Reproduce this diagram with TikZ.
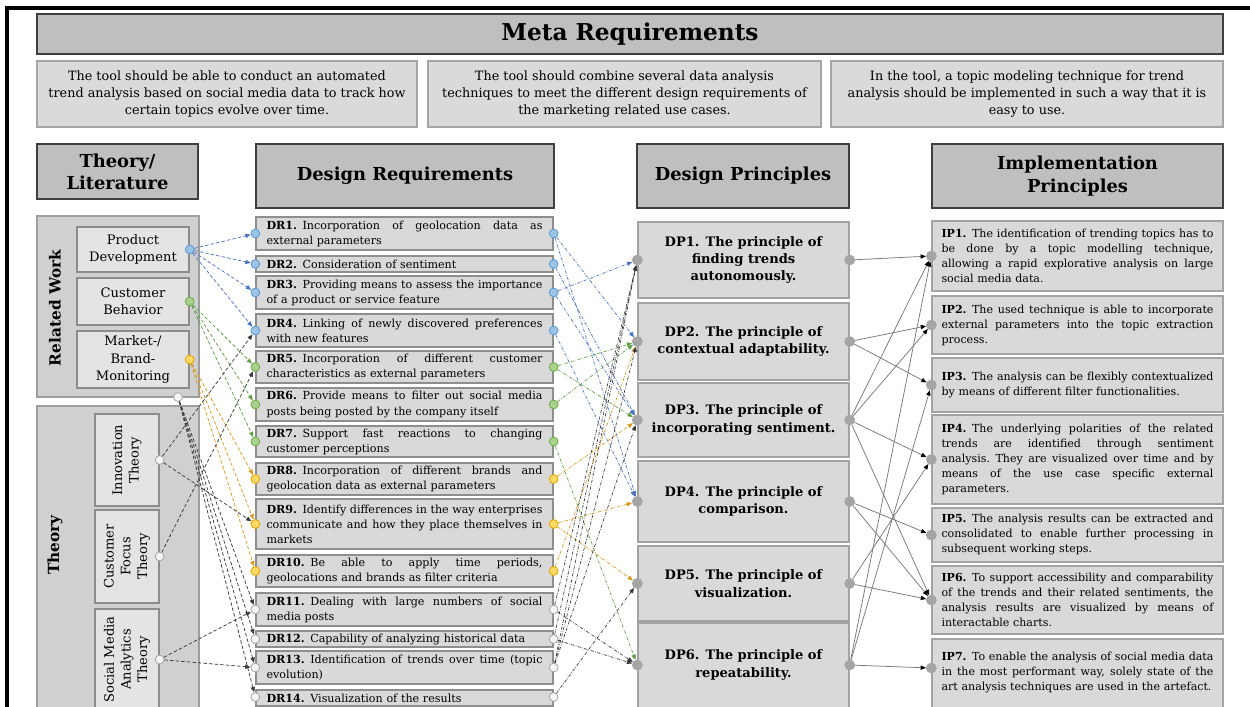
\documentclass[tikz,border=0pt]{standalone}
\usepackage{fontspec}
\setmainfont{DejaVu Serif}
\usetikzlibrary{arrows.meta}

\definecolor{hdrfill}{HTML}{BFBFBF}
\definecolor{hdrline}{HTML}{3F3F3F}
\definecolor{metafill}{HTML}{DADADA}
\definecolor{metaline}{HTML}{A5A5A5}
\definecolor{grpfill}{HTML}{D0D0D0}
\definecolor{grpline}{HTML}{9E9E9E}
\definecolor{subfill}{HTML}{E4E4E4}
\definecolor{subline}{HTML}{8C8C8C}
\definecolor{boxfill}{HTML}{D9D9D9}
\definecolor{boxline}{HTML}{8E8E8E}
\definecolor{dpline}{HTML}{A3A3A3}
\definecolor{bluefill}{HTML}{9DC3E6}
\definecolor{blueedge}{HTML}{5B9BD5}
\definecolor{greenfill}{HTML}{A9D18E}
\definecolor{greenedge}{HTML}{70AD47}
\definecolor{yelfill}{HTML}{FFD966}
\definecolor{yeledge}{HTML}{E3A800}
\definecolor{whitefill}{HTML}{F4F4F4}
\definecolor{whiteedge}{HTML}{A6A6A6}
\definecolor{greydot}{HTML}{A5A5A5}
\definecolor{lnblue}{HTML}{4A72C0}
\definecolor{lngreen}{HTML}{5E9E44}
\definecolor{lnyel}{HTML}{D99A1E}
\definecolor{lnblack}{HTML}{3A3A3A}
\definecolor{lngrey}{HTML}{777777}

% box from pixel corners (x1,y1)-(x2,y2)
\newcommand\putbox[7]{%
  \pgfmathsetmacro\bw{(#4-#2)*0.75}%
  \pgfmathsetmacro\bh{(#5-#3)*0.75}%
  \node[#6, minimum width=\bw pt, minimum height=\bh pt] (#1) at ({(#2+#4)/2},{(#3+#5)/2}) {#7};}
% fully justified lines for the requirement and implementation boxes
\newcommand\jd[1]{\leavevmode\hbox to 207pt{\spaceskip=0.32em plus 3em minus 0.04em\relax #1}\\}
\newcommand\ji[1]{\leavevmode\hbox to 204pt{\spaceskip=0.32em plus 3em minus 0.04em\relax #1}\\}

\tikzset{
  hdr/.style={draw=hdrline, fill=hdrfill, line width=1.1pt, inner sep=0pt, align=center,
    font=\fontsize{13.4}{17}\selectfont\bfseries},
  meta/.style={draw=metaline, fill=metafill, line width=1pt, inner sep=0pt, align=center,
    font=\fontsize{9.6}{12.75}\selectfont},
  grp/.style={draw=grpline, fill=grpfill, line width=1pt, inner sep=0pt},
  sub/.style={draw=subline, fill=subfill, line width=1pt, inner sep=0pt, align=center,
    font=\fontsize{9.8}{13}\selectfont},
  drbox/.style={draw=boxline, fill=boxfill, line width=1pt, inner sep=0pt, text width=207pt,
    align=left, font=\fontsize{8.35}{11.3}\selectfont},
  dpbox/.style={draw=dpline, fill=boxfill, line width=1pt, inner sep=0pt, align=center,
    font=\fontsize{9.8}{13}\selectfont\bfseries},
  ipbox/.style={draw=dpline, fill=boxfill, line width=1pt, inner sep=0pt, text width=204pt,
    align=left, font=\fontsize{8.3}{11.25}\selectfont},
  grplabel/.style={rotate=90, font=\fontsize{11.5}{14}\selectfont\bfseries},
  sublabel/.style={rotate=90, align=center, font=\fontsize{9.8}{12.5}\selectfont},
  dot/.style={circle, inner sep=0pt, minimum size=6.6pt, line width=0.6pt},
  bdot/.style={dot, fill=bluefill, draw=blueedge},
  gdot/.style={dot, fill=greenfill, draw=greenedge},
  ydot/.style={dot, fill=yelfill, draw=yeledge},
  wdot/.style={dot, fill=whitefill, draw=whiteedge},
  pdot/.style={dot, minimum size=7.4pt, fill=greydot, draw=greydot},
  rwl/.style={-{Triangle[length=4pt,width=3.2pt]}, line width=0.55pt, dash pattern=on 2.6pt off 1.6pt},
  dpl/.style={-{Triangle[length=4pt,width=3.2pt]}, line width=0.5pt,
    dash pattern=on 2.4pt off 1.1pt on 0.5pt off 1.1pt},
  ipl/.style={-{Triangle[length=4pt,width=3.2pt,color=black]}, line width=0.55pt, draw=lngrey},
}

\begin{document}
\begin{tikzpicture}[x=0.75pt,y=-0.75pt]
\clip (0,0) rectangle (1250,707);
\fill[white] (0,0) rectangle (1250,707);

% outer frame
\draw[line width=2.3pt] (7,715) -- (7,8) -- (1260,8);

% meta requirements
\putbox{title}{37}{14}{1223}{54}{hdr, font=\fontsize{17.4}{20}\selectfont\bfseries}{Meta Requirements}
\putbox{mr1}{37}{61}{417}{127}{meta}{The tool should be able to conduct an automated\\trend analysis based on social media data to track how\\certain topics evolve over time.}
\putbox{mr2}{428}{61}{821}{127}{meta}{The tool should combine several data analysis\\techniques to meet the different design requirements of\\the marketing related use cases.}
\putbox{mr3}{831}{61}{1223}{127}{meta}{In the tool, a topic modeling technique for trend\\analysis should be implemented in such a way that it is\\easy to use.}

% column headers
\putbox{hlit}{37}{144}{198}{199}{hdr, font=\fontsize{13.4}{16.5}\selectfont\bfseries}{Theory/\\Literature}
\putbox{hdr}{256}{144}{554}{208}{hdr}{Design Requirements}
\putbox{hdp}{637}{144}{849}{208}{hdr}{Design Principles}
\putbox{hip}{932}{144}{1223}{208}{hdr, font=\fontsize{13.4}{17.8}\selectfont\bfseries}{Implementation\\Principles}

% theory / literature groups
\putbox{rw}{37}{216}{199}{397}{grp}{}
\node[grplabel] (rwlab) at (55,308) {Related Work};
\putbox{pd}{77}{227}{189}{272}{sub}{Product\\Development}
\putbox{cb}{77}{278}{189}{325}{sub}{Customer\\Behavior}
\putbox{mb}{77}{331}{189}{388}{sub}{Market-/\\Brand-\\Monitoring}

\putbox{th}{37}{406}{199}{720}{grp}{}
\node[grplabel] (thlab) at (55,545) {Theory};
\putbox{it}{95}{414}{159}{506}{sub}{}
\node[sublabel] (itlab) at (it.center) {Innovation\\Theory};
\putbox{cf}{95}{510}{159}{603}{sub}{}
\node[sublabel] (cflab) at (cf.center) {Customer\\Focus\\Theory};
\putbox{sm}{95}{609}{159}{710}{sub}{}
\node[sublabel] (smlab) at (sm.center) {Social Media\\Analytics\\Theory};

% design requirements
\putbox{dr1}{256}{217}{553}{250}{drbox}{\jd{\textbf{DR1.} Incorporation of geolocation data as}external parameters}
\putbox{dr2}{256}{256}{553}{272}{drbox}{\textbf{DR2.} Consideration of sentiment}
\putbox{dr3}{256}{276}{553}{309}{drbox}{\jd{\textbf{DR3.} Providing means to assess the importance}of a product or service feature}
\putbox{dr4}{256}{314}{553}{347}{drbox}{\jd{\textbf{DR4.} Linking of newly discovered preferences}with new features}
\putbox{dr5}{256}{351}{553}{383}{drbox}{\jd{\textbf{DR5.} Incorporation of different customer}characteristics as external parameters}
\putbox{dr6}{256}{388}{553}{421}{drbox}{\jd{\textbf{DR6.} Provide means to filter out social media}posts being posted by the company itself}
\putbox{dr7}{256}{426}{553}{457}{drbox}{\jd{\textbf{DR7.} Support fast reactions to changing}customer perceptions}
\putbox{dr8}{256}{463}{553}{495}{drbox}{\jd{\textbf{DR8.} Incorporation of different brands and}geolocation data as external parameters}
\putbox{dr9}{256}{499}{553}{549}{drbox}{\jd{\textbf{DR9.} Identify differences in the way enterprises}\jd{communicate and how they place themselves in}markets}
\putbox{dr10}{256}{555}{553}{587}{drbox}{\jd{\textbf{DR10.} Be able to apply time periods,}geolocations and brands as filter criteria}
\putbox{dr11}{256}{593}{553}{626}{drbox}{\jd{\textbf{DR11.} Dealing with large numbers of social}media posts}
\putbox{dr12}{256}{631}{553}{647}{drbox}{\textbf{DR12.} Capability of analyzing historical data}
\putbox{dr13}{256}{651}{553}{684}{drbox}{\jd{\textbf{DR13.} Identification of trends over time (topic}evolution)}
\putbox{dr14}{256}{690}{553}{706}{drbox}{\textbf{DR14.} Visualization of the results}

% design principles
\putbox{dp1}{638}{222}{849}{298}{dpbox}{DP1. The principle of\\finding trends\\autonomously.}
\putbox{dp2}{638}{303}{849}{380}{dpbox}{DP2. The principle of\\contextual adaptability.}
\putbox{dp3}{638}{383}{849}{457}{dpbox}{DP3. The principle of\\incorporating sentiment.}
\putbox{dp4}{638}{461}{849}{542}{dpbox}{DP4. The principle of\\comparison.}
\putbox{dp5}{638}{546}{849}{621}{dpbox}{DP5. The principle of\\visualization.}
\putbox{dp6}{638}{623}{849}{712}{dpbox}{}
\node[dpbox, draw=none, fill=none] (dp6t) at (743.5,665) {DP6. The principle of\\repeatability.};

% implementation principles
\putbox{ip1}{932}{221}{1223}{291}{ipbox}{\ji{\textbf{IP1.} The identification of trending topics has to}\ji{be done by a topic modelling technique,}\ji{allowing a rapid explorative analysis on large}social media data.}
\putbox{ip2}{932}{296}{1223}{354}{ipbox}{\ji{\textbf{IP2.} The used technique is able to incorporate}\ji{external parameters into the topic extraction}process.}
\putbox{ip3}{932}{358}{1223}{412}{ipbox}{\ji{\textbf{IP3.} The analysis can be flexibly contextualized}by means of different filter functionalities.}
\putbox{ip4}{932}{415}{1223}{504}{ipbox}{\ji{\textbf{IP4.} The underlying polarities of the related}\ji{trends are identified through sentiment}\ji{analysis. They are visualized over time and by}\ji{means of the use case specific external}parameters.}
\putbox{ip5}{932}{508}{1223}{562}{ipbox}{\ji{\textbf{IP5.} The analysis results can be extracted and}\ji{consolidated to enable further processing in}subsequent working steps.}
\putbox{ip6}{932}{566}{1223}{634}{ipbox}{\ji{\textbf{IP6.} To support accessibility and comparability}\ji{of the trends and their related sentiments, the}\ji{analysis results are visualized by means of}interactable charts.}
\putbox{ip7}{932}{639}{1223}{712}{ipbox}{}
\node[ipbox, draw=none, fill=none] (ip7t) at (1077.5,673) {\ji{\textbf{IP7.} To enable the analysis of social media data}\ji{in the most performant way, solely state of the}art analysis techniques are used in the artefact.};

% connection dots: literature
\node[bdot] (pd-o) at (pd.east) {};
\node[gdot] (cb-o) at (cb.east) {};
\node[ydot] (mb-o) at (mb.east) {};
\node[wdot] (rw-o) at (178,397) {};
\node[wdot] (it-o) at (it.east) {};
\node[wdot] (cf-o) at (cf.east) {};
\node[wdot] (sm-o) at (sm.east) {};

% connection dots: design requirements
\foreach \n/\s in {1/bdot,2/bdot,3/bdot,4/bdot,5/gdot,6/gdot,7/gdot,8/ydot,9/ydot,10/ydot,11/wdot,12/wdot,13/wdot}{
  \node[\s] (dr\n-i) at (dr\n.west) {};
  \node[\s] (dr\n-o) at (dr\n.east) {};
}
\node[wdot] (dr14-i) at ([yshift=0.75pt]dr14.west) {};
\node[wdot] (dr14-o) at ([yshift=0.75pt]dr14.east) {};

% connection dots: design and implementation principles
\foreach \n in {1,...,5}{
  \node[pdot] (dp\n-i) at (dp\n.west) {};
  \node[pdot] (dp\n-o) at (dp\n.east) {};
}
\node[pdot] (dp6-i) at (dp6.west |- dp6t.center) {};
\node[pdot] (dp6-o) at (dp6.east |- dp6t.center) {};
\foreach \n in {1,...,6}{
  \node[pdot] (ip\n-i) at (ip\n.west) {};
}
\node[pdot] (ip7-i) at ([yshift=5.6pt]ip7.west) {};

% literature -> design requirements
\foreach \t in {1,2,3,4}{\draw[rwl, lnblue] (pd-o) -- (dr\t-i);}
\foreach \t in {5,6,7}{\draw[rwl, lngreen] (cb-o) -- (dr\t-i);}
\foreach \t in {8,9,10}{\draw[rwl, lnyel] (mb-o) -- (dr\t-i);}
\foreach \t in {11,12,13,14}{\draw[rwl, lnblack] (rw-o) -- (dr\t-i);}
\draw[rwl, lnblack] (it-o) -- (dr4-i);
\draw[rwl, lnblack] (it-o) -- (dr9-i);
\draw[rwl, lnblack] (cf-o) -- (dr5-i);
\draw[rwl, lnblack] (sm-o) -- (dr11-i);
\draw[rwl, lnblack] (sm-o) -- (dr13-i);

% design requirements -> design principles
\draw[dpl, lnblue] (dr1-o) -- (dp2-i);
\draw[dpl, lnblue] (dr1-o) -- (dp4-i);
\draw[dpl, lnblue] (dr2-o) -- (dp3-i);
\draw[dpl, lnblue] (dr3-o) -- (dp1-i);
\draw[dpl, lnblue] (dr3-o) -- (dp3-i);
\draw[dpl, lnblue] (dr4-o) -- (dp4-i);
\draw[dpl, lngreen] (dr5-o) -- (dp2-i);
\draw[dpl, lngreen] (dr5-o) -- (dp3-i);
\draw[dpl, lngreen] (dr6-o) -- (dp2-i);
\draw[dpl, lngreen] (dr7-o) -- (dp6-i);
\draw[dpl, lnyel] (dr8-o) -- (dp3-i);
\draw[dpl, lnyel] (dr9-o) -- (dp4-i);
\draw[dpl, lnyel] (dr9-o) -- (dp5-i);
\draw[dpl, lnyel] (dr10-o) -- (dp2-i);
\draw[dpl, lnblack] (dr11-o) -- (dp6-i);
\draw[dpl, lnblack] (dr12-o) -- (dp6-i);
\draw[dpl, lnblack] (dr11-o) -- (dp1-i);
\draw[dpl, lnblack] (dr12-o) -- (dp1-i);
\draw[dpl, lnblack] (dr13-o) -- (dp1-i);
\draw[dpl, lnblack] (dr13-o) -- (dp2-i);
\draw[dpl, lnblack] (dr13-o) -- (dp3-i);
\draw[dpl, lnblack] (dr14-o) -- (dp5-i);

% design principles -> implementation principles
\draw[ipl] (dp1-o) -- (ip1-i);
\draw[ipl] (dp2-o) -- (ip2-i);
\draw[ipl] (dp2-o) -- (ip3-i);
\draw[ipl] (dp3-o) -- (ip1-i);
\draw[ipl] (dp3-o) -- (ip2-i);
\draw[ipl] (dp3-o) -- (ip4-i);
\draw[ipl] (dp3-o) -- (ip6-i);
\draw[ipl] (dp4-o) -- (ip5-i);
\draw[ipl] (dp4-o) -- (ip6-i);
\draw[ipl] (dp5-o) -- (ip4-i);
\draw[ipl] (dp5-o) -- (ip6-i);
\draw[ipl] (dp6-o) -- (ip1-i);
\draw[ipl] (dp6-o) -- (ip3-i);
\draw[ipl] (dp6-o) -- (ip7-i);
\end{tikzpicture}
\end{document}
